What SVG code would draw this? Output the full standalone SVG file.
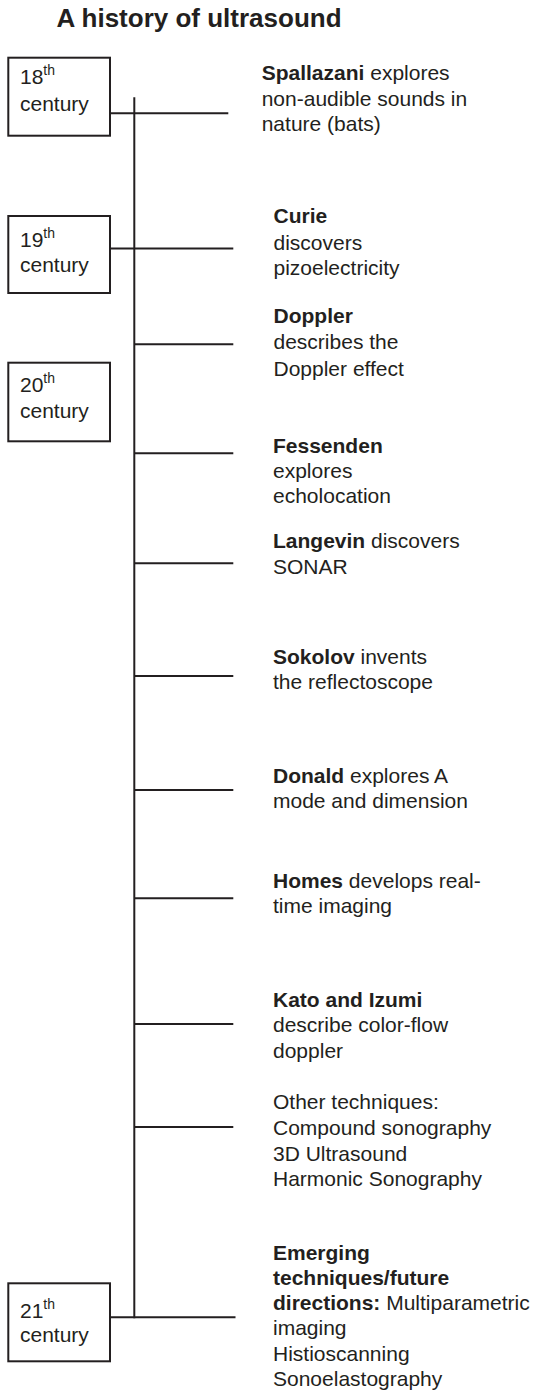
<svg xmlns="http://www.w3.org/2000/svg" width="535" height="1392" viewBox="0 0 535 1392">
<style>
text{font-family:"Liberation Sans",Arial,Helvetica,sans-serif;fill:#231f20}
.t{font-size:26px;font-weight:bold}
.b{font-size:21px}
.bd{font-weight:bold}
.sup{font-size:14px}
.box{fill:#fff;stroke:#231f20;stroke-width:2}
.ln{stroke:#231f20;stroke-width:2;fill:none}
</style>
<rect width="535" height="1392" fill="#fff"/>
<text class="t" x="56.5" y="27.3">A history of ultrasound</text>
<g id="connectors">
<line class="ln" x1="134.3" y1="97.3" x2="134.3" y2="1318.3"/>
<line class="ln" x1="110" y1="113.3" x2="228.3" y2="113.3"/>
<line class="ln" x1="110" y1="248.5" x2="233.3" y2="248.5"/>
<line class="ln" x1="134.3" y1="344.3" x2="233.3" y2="344.3"/>
<line class="ln" x1="134.3" y1="453.3" x2="233.3" y2="453.3"/>
<line class="ln" x1="134.3" y1="563.3" x2="233.3" y2="563.3"/>
<line class="ln" x1="134.3" y1="676" x2="233.3" y2="676"/>
<line class="ln" x1="134.3" y1="790" x2="233.3" y2="790"/>
<line class="ln" x1="134.3" y1="898.3" x2="233.3" y2="898.3"/>
<line class="ln" x1="134.3" y1="1024" x2="233.3" y2="1024"/>
<line class="ln" x1="134.3" y1="1127" x2="233.3" y2="1127"/>
<line class="ln" x1="110" y1="1317.3" x2="235.5" y2="1317.3"/>
</g>
<g id="c18">
<rect class="box" x="8.3" y="57.7" width="101.7" height="78"/>
<text class="b" x="20" y="84">18<tspan class="sup" dy="-9">th</tspan></text>
<text class="b" x="20" y="111">century</text>
</g>
<g id="c19">
<rect class="box" x="8.3" y="216" width="101.7" height="77"/>
<text class="b" x="20" y="246.7">19<tspan class="sup" dy="-9">th</tspan></text>
<text class="b" x="20" y="271.7">century</text>
</g>
<g id="c20">
<rect class="box" x="8.3" y="362.7" width="101.7" height="78.6"/>
<text class="b" x="20" y="392.3">20<tspan class="sup" dy="-9">th</tspan></text>
<text class="b" x="20" y="418.3">century</text>
</g>
<g id="c21">
<rect class="box" x="8.3" y="1283.3" width="101.7" height="78"/>
<text class="b" x="20" y="1317.7">21<tspan class="sup" dy="-9">th</tspan></text>
<text class="b" x="20" y="1341.7">century</text>
</g>
<g id="spallazani">
<text class="b" x="261.7" y="80"><tspan class="bd">Spallazani</tspan> explores</text>
<text class="b" x="261.7" y="105.7">non-audible sounds in</text>
<text class="b" x="261.7" y="131">nature (bats)</text>
</g>
<g id="curie">
<text class="b bd" x="273.5" y="223.1">Curie</text>
<text class="b" x="273.5" y="250">discovers</text>
<text class="b" x="273.5" y="275.3">pizoelectricity</text>
</g>
<g id="doppler">
<text class="b bd" x="273.5" y="323">Doppler</text>
<text class="b" x="273.5" y="349.3">describes the</text>
<text class="b" x="273.5" y="375.5">Doppler effect</text>
</g>
<g id="fessenden">
<text class="b bd" x="273" y="452.7">Fessenden</text>
<text class="b" x="273" y="477.7">explores</text>
<text class="b" x="273" y="503.3">echolocation</text>
</g>
<g id="langevin">
<text class="b" x="273" y="548.3"><tspan class="bd">Langevin</tspan> discovers</text>
<text class="b" x="273" y="574">SONAR</text>
</g>
<g id="sokolov">
<text class="b" x="273" y="664"><tspan class="bd">Sokolov</tspan> invents</text>
<text class="b" x="273" y="689.3">the reflectoscope</text>
</g>
<g id="donald">
<text class="b" x="273" y="783.3"><tspan class="bd">Donald</tspan> explores A</text>
<text class="b" x="273" y="808.3">mode and dimension</text>
</g>
<g id="homes">
<text class="b" x="273" y="888.3"><tspan class="bd">Homes</tspan> develops real-</text>
<text class="b" x="273" y="913.3">time imaging</text>
</g>
<g id="kato">
<text class="b bd" x="273" y="1006.7">Kato and Izumi</text>
<text class="b" x="273" y="1032.3">describe color-flow</text>
<text class="b" x="273" y="1058.3">doppler</text>
</g>
<g id="other">
<text class="b" x="273" y="1109.3">Other techniques:</text>
<text class="b" x="273" y="1135">Compound sonography</text>
<text class="b" x="273" y="1160.5">3D Ultrasound</text>
<text class="b" x="273" y="1185.5">Harmonic Sonography</text>
</g>
<g id="emerging">
<text class="b bd" x="273" y="1260">Emerging</text>
<text class="b bd" x="273" y="1285">techniques/future</text>
<text class="b" x="273" y="1310"><tspan class="bd">directions:</tspan> Multiparametric</text>
<text class="b" x="273" y="1335">imaging</text>
<text class="b" x="273" y="1361">Histioscanning</text>
<text class="b" x="273" y="1385.5">Sonoelastography</text>
</g>
</svg>
